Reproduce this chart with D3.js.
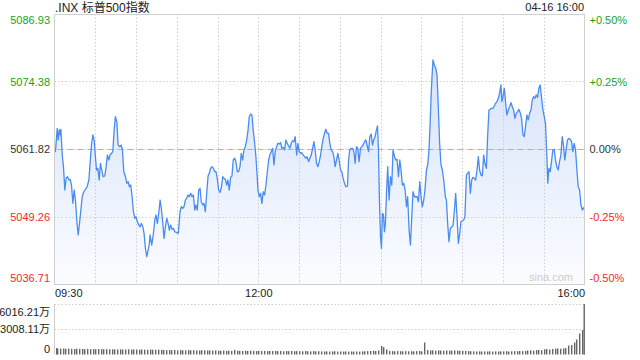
<!DOCTYPE html>
<html><head><meta charset="utf-8">
<script src="https://cdn.jsdelivr.net/npm/d3@7"></script>
<style>
html,body{margin:0;padding:0;background:#fff;}
svg{display:block;font-family:"Liberation Sans",Arial,"Noto Sans CJK SC",sans-serif;}
</style></head>
<body>
<svg id="chart" width="640" height="360"></svg>
<script>
const titleText = ".INX 标普500指数";
const dateText = "04-16 16:00";
const preClose = 5061.82;
const priceTicks = [5086.93, 5074.38, 5061.82, 5049.26, 5036.71];
const pctLabels = ["+0.50%", "+0.25%", "0.00%", "-0.25%", "-0.50%"];
const timeTicks = [0, 150, 390];
const timeLabels = ["09:30", "12:00", "16:00"];
const volTicks = [6016.21, 3008.11, 0];
const volLabels = ["6016.21万", "3008.11万", "0"];

// [minutes since 09:30, price]
const priceSeries = [[0,5061.95],[0.7,5061.32],[2.0,5065.67],[2.7,5063.49],[3.5,5065.36],[4.2,5064.43],[4.7,5065.49],[5.7,5060.70],[6.6,5058.53],[7.6,5054.19],[8.6,5056.42],[9.6,5056.67],[10.6,5056.05],[11.5,5056.18],[12.5,5055.12],[13.5,5051.72],[14.5,5054.19],[15.4,5052.33],[16.5,5048.29],[17.4,5045.82],[18.4,5047.99],[19.4,5050.47],[20.4,5052.94],[21.6,5053.87],[22.8,5054.32],[24.0,5054.80],[25.3,5056.05],[26.2,5059.16],[27.2,5062.56],[28.2,5064.43],[29.2,5063.49],[30.1,5060.39],[30.9,5057.91],[31.9,5058.23],[32.9,5056.05],[33.8,5059.16],[34.8,5057.91],[35.8,5056.67],[37.0,5056.80],[38.0,5058.53],[38.9,5060.70],[40.0,5059.77],[40.9,5060.70],[41.9,5061.02],[42.9,5061.32],[43.9,5065.36],[44.8,5067.83],[45.9,5066.90],[46.8,5062.56],[48.1,5062.25],[49.0,5062.56],[50.0,5061.63],[51.0,5057.60],[52.2,5056.67],[53.2,5055.44],[54.2,5055.74],[55.1,5054.80],[56.1,5055.12],[57.1,5052.94],[58.1,5050.15],[59.1,5048.92],[60.0,5049.22],[61.0,5048.29],[62.0,5047.68],[63.0,5047.36],[63.9,5047.99],[65.0,5047.36],[65.9,5046.13],[66.9,5043.34],[67.9,5041.78],[68.9,5043.03],[69.8,5044.14],[70.3,5045.82],[71.6,5043.96],[72.8,5046.13],[73.8,5048.61],[74.7,5049.54],[75.7,5047.99],[76.7,5049.85],[77.7,5052.33],[78.6,5050.79],[79.7,5047.99],[80.6,5045.20],[81.6,5047.36],[82.6,5048.92],[83.6,5047.99],[84.5,5046.75],[85.5,5047.68],[86.5,5046.88],[87.5,5047.06],[88.5,5046.43],[90.0,5046.25],[91.1,5046.13],[92.4,5050.15],[93.3,5051.08],[94.4,5050.79],[95.3,5051.08],[96.3,5052.33],[97.3,5052.65],[98.3,5053.26],[99.2,5052.94],[100.2,5053.58],[101.2,5052.94],[102.2,5053.26],[103.2,5050.47],[104.1,5051.40],[105.1,5050.47],[106.1,5054.19],[107.1,5054.51],[108.0,5052.01],[109.1,5051.40],[110.0,5051.72],[111.0,5050.15],[112.0,5053.58],[113.0,5056.80],[113.9,5057.30],[114.9,5058.23],[115.9,5058.53],[116.9,5058.23],[117.9,5057.60],[118.8,5057.60],[119.8,5056.37],[120.8,5054.19],[121.8,5053.76],[122.7,5054.51],[123.8,5056.67],[124.7,5056.37],[125.7,5056.18],[126.7,5055.12],[127.6,5056.05],[128.6,5054.19],[129.6,5056.55],[130.6,5056.80],[131.5,5059.77],[132.6,5060.09],[133.5,5059.46],[134.5,5057.60],[135.5,5057.60],[136.5,5058.53],[137.4,5061.02],[138.5,5059.77],[139.4,5061.63],[140.4,5062.25],[141.4,5063.49],[142.3,5065.04],[143.3,5067.83],[144.3,5068.33],[145.3,5068.15],[146.2,5065.36],[147.3,5062.88],[148.2,5060.39],[149.0,5057.30],[149.7,5054.19],[150.7,5052.94],[151.7,5053.58],[152.6,5051.72],[153.6,5053.87],[154.6,5053.26],[155.6,5055.12],[156.5,5057.30],[157.6,5059.77],[158.5,5060.70],[159.5,5061.32],[160.5,5061.95],[161.5,5058.84],[162.4,5061.32],[163.4,5062.25],[164.4,5062.88],[165.4,5062.75],[166.4,5062.99],[167.3,5061.95],[168.3,5062.14],[169.3,5061.63],[170.3,5063.49],[171.2,5062.88],[172.3,5062.38],[173.2,5061.95],[174.2,5062.88],[175.2,5063.36],[176.2,5063.18],[177.1,5064.11],[178.2,5060.70],[179.1,5062.88],[180.1,5061.32],[181.1,5061.02],[182.0,5061.13],[183.0,5060.70],[184.0,5060.39],[185.0,5060.09],[185.9,5060.39],[187.0,5059.46],[187.9,5060.09],[188.9,5060.70],[189.9,5061.95],[190.9,5063.18],[191.8,5061.63],[192.8,5059.16],[193.8,5058.53],[194.8,5059.46],[195.8,5060.70],[196.7,5062.25],[197.7,5063.81],[198.7,5064.74],[199.7,5065.49],[200.6,5064.74],[201.7,5064.74],[202.6,5062.88],[203.6,5061.63],[204.6,5061.32],[205.6,5060.39],[206.5,5058.53],[207.5,5059.77],[208.5,5061.02],[209.4,5059.77],[210.5,5057.91],[211.4,5057.60],[212.4,5056.37],[213.4,5055.44],[214.4,5054.80],[215.6,5054.93],[216.4,5059.77],[217.3,5061.63],[218.3,5061.95],[219.3,5061.95],[220.3,5061.32],[221.2,5059.16],[222.2,5062.25],[223.2,5061.95],[224.1,5059.46],[225.2,5061.95],[226.1,5062.25],[227.1,5062.56],[228.1,5063.18],[229.1,5063.49],[230.0,5062.56],[231.1,5061.32],[232.0,5064.11],[233.0,5064.61],[234.0,5062.56],[234.9,5063.49],[235.9,5064.11],[236.9,5065.36],[237.7,5066.10],[238.4,5061.63],[239.1,5052.33],[239.9,5045.50],[240.6,5043.34],[241.3,5049.85],[242.1,5049.54],[242.8,5046.43],[243.5,5047.99],[244.3,5053.58],[245.2,5058.53],[246.2,5052.33],[247.2,5056.67],[248.2,5055.12],[249.1,5061.63],[250.2,5060.39],[251.1,5059.77],[252.1,5059.90],[253.1,5056.67],[254.1,5059.77],[255.0,5057.91],[256.0,5055.12],[257.0,5055.44],[258.0,5054.19],[259.0,5051.08],[259.9,5052.94],[260.9,5046.75],[261.9,5043.96],[262.9,5049.22],[263.8,5053.87],[264.9,5052.94],[265.8,5052.94],[266.8,5052.94],[267.8,5052.01],[268.8,5055.74],[269.7,5052.94],[270.7,5051.08],[271.7,5052.33],[272.6,5054.19],[273.7,5057.91],[274.6,5058.84],[275.6,5061.63],[276.3,5065.97],[277.1,5071.55],[277.8,5075.27],[278.5,5078.38],[279.5,5077.45],[280.5,5076.84],[281.5,5075.59],[282.5,5069.08],[283.4,5062.88],[284.4,5058.84],[285.4,5057.91],[286.4,5056.05],[287.6,5052.94],[288.4,5052.33],[289.3,5047.99],[290.3,5044.57],[291.3,5047.06],[292.3,5047.36],[293.2,5047.49],[294.3,5050.47],[295.2,5053.58],[296.2,5049.22],[297.2,5044.27],[298.2,5046.13],[299.1,5048.29],[300.1,5048.48],[301.1,5048.61],[302.0,5049.22],[303.1,5056.98],[304.0,5057.30],[305.0,5057.60],[306.0,5053.58],[307.0,5056.05],[307.9,5056.55],[308.9,5056.37],[309.9,5056.05],[310.9,5057.91],[311.9,5060.39],[312.8,5057.91],[313.8,5056.98],[314.8,5056.80],[315.8,5060.70],[316.7,5059.16],[317.8,5058.23],[318.7,5064.11],[319.7,5069.08],[320.7,5069.21],[321.6,5069.39],[322.6,5069.39],[323.6,5069.82],[324.6,5070.32],[325.6,5070.62],[326.6,5071.25],[327.5,5072.18],[328.5,5073.73],[329.2,5070.62],[330.0,5071.55],[331.0,5073.11],[332.0,5070.32],[332.9,5068.15],[333.9,5069.08],[334.9,5069.69],[335.9,5070.44],[336.9,5069.69],[337.8,5069.08],[338.8,5067.53],[339.8,5068.46],[340.8,5068.76],[341.7,5069.21],[342.8,5068.46],[343.7,5067.53],[344.7,5064.43],[345.7,5064.11],[346.6,5065.97],[347.6,5068.15],[348.6,5067.22],[349.6,5068.46],[350.6,5069.08],[351.6,5070.94],[352.5,5071.55],[353.5,5071.25],[354.5,5071.87],[355.5,5071.40],[356.4,5073.11],[357.4,5073.73],[358.4,5071.40],[359.4,5069.08],[360.4,5067.83],[361.3,5066.60],[362.3,5060.39],[363.0,5055.44],[363.8,5058.23],[364.8,5057.60],[365.7,5059.46],[366.7,5061.63],[367.7,5061.76],[368.7,5059.77],[369.6,5058.53],[370.7,5057.91],[371.6,5059.46],[372.6,5060.70],[373.6,5064.11],[374.5,5062.56],[375.5,5059.77],[376.6,5061.95],[377.5,5063.49],[378.5,5063.81],[379.5,5063.62],[380.5,5063.18],[381.4,5061.32],[382.4,5062.88],[383.4,5061.63],[384.4,5057.91],[385.4,5054.80],[386.4,5054.19],[387.4,5051.40],[388.4,5050.47],[390,5051.08]];

// volume in 万, one bar every 2 minutes from 09:30
const volumes = [760,720,700,710,690,700,680,660,690,670,
660,650,670,640,650,630,660,640,620,640,
630,610,620,600,610,590,600,620,580,600,
590,570,600,580,560,590,570,560,580,550,
540,520,530,510,540,500,520,510,490,520,
500,510,490,480,510,500,470,490,480,500,
460,450,470,440,460,430,560,450,440,430,
450,420,440,430,410,440,420,430,400,420,
410,430,400,420,390,410,400,420,390,410,
400,380,410,390,370,400,380,390,370,360,
370,350,360,380,350,360,340,370,350,360,
340,360,350,370,380,400,420,450,410,480,
1010,860,600,420,400,380,410,390,370,400,
380,390,370,400,420,380,1430,520,480,500,
460,490,470,450,480,460,470,490,450,460,
440,430,410,380,370,360,380,350,370,360,
380,350,370,360,380,370,390,360,380,400,
390,410,400,430,480,500,460,520,540,510,
620,660,600,650,700,720,690,730,760,1070,
1130,1430,1790,2500,2920,6016.21];
const volMinuteStep = 2;

const svg = d3.select("#chart");
const L = 54.5, R = 584.5, T = 14, B = 284;
const VT = 304, VB = 354.5;
const green = "#1a9f1a", red = "#ee2b2b", gridC = "#cfcfcf", borderC = "#d0d0d0";

const x = d3.scaleLinear().domain([0, 390]).range([L, R]);
const y = d3.scaleLinear().domain([priceTicks[4], priceTicks[0]]).range([B, T]);
const yv = d3.scaleLinear().domain([0, volTicks[0]]).range([VB, VT]);

// gradient
const defs = svg.append("defs");
const grad = defs.append("linearGradient").attr("id", "fillG")
  .attr("gradientUnits", "userSpaceOnUse").attr("x1", 0).attr("y1", 55).attr("x2", 0).attr("y2", B);
grad.append("stop").attr("offset", "0%").attr("stop-color", "#d4e2fa");
grad.append("stop").attr("offset", "100%").attr("stop-color", "#fbfcff");

// area
const area = d3.area().x(d => x(d[0])).y0(B).y1(d => y(d[1]));
svg.append("path").datum(priceSeries).attr("d", area).attr("fill", "url(#fillG)");

// vertical grid
const vgrid = d3.range(30, 390, 30);
svg.append("g").selectAll("line").data(vgrid).join("line")
  .attr("x1", d => Math.round(x(d)) + 0.5).attr("x2", d => Math.round(x(d)) + 0.5)
  .attr("y1", T).attr("y2", B)
  .attr("stroke", gridC).attr("stroke-dasharray", "1.5,2").attr("stroke-width", 1);

// horizontal grid
[priceTicks[1], priceTicks[3]].forEach(v => {
  svg.append("line").attr("x1", L).attr("x2", R).attr("y1", Math.round(y(v)) + 0.5).attr("y2", Math.round(y(v)) + 0.5)
    .attr("stroke", gridC).attr("stroke-dasharray", "1.5,2");
});
// pre-close line
const yc = Math.round(y(preClose)) + 0.5;
svg.append("line").attr("x1", L).attr("x2", R).attr("y1", yc).attr("y2", yc)
  .attr("stroke", "#bbbbbb").attr("stroke-dasharray", "1,2");
svg.append("line").attr("x1", L + 3).attr("x2", R).attr("y1", yc).attr("y2", yc)
  .attr("stroke", "#f0a070").attr("stroke-dasharray", "6,4");

// price line
const line = d3.line().x(d => x(d[0])).y(d => y(d[1]));
svg.append("path").datum(priceSeries).attr("d", line).attr("fill", "none")
  .attr("stroke", "#4a8bf0").attr("stroke-width", 1.3).attr("stroke-linejoin", "round");

// borders price
svg.append("rect").attr("x", L).attr("y", T + 0.5).attr("width", R - L).attr("height", B - T)
  .attr("fill", "none").attr("stroke", borderC);

// watermark
svg.append("text").attr("x", 573).attr("y", 281).attr("text-anchor", "end")
  .attr("font-size", 11).attr("fill", "#cccccc").text("sina.com");

// left price axis
const pctColor = (i) => i < 2 ? green : (i === 2 ? "#333" : red);
const leftAxis = d3.axisLeft(y).tickValues(priceTicks).tickSize(0).tickPadding(4).tickFormat(d3.format(".2f"));
const gl = svg.append("g").attr("transform", `translate(${L - 0.5},0)`).call(leftAxis);
gl.select(".domain").remove();
gl.selectAll("text").attr("font-size", 11).attr("font-family", "Liberation Sans, Arial, sans-serif")
  .attr("fill", (d, i) => pctColor(i))
  .attr("dy", (d, i) => i === 0 ? "0.85em" : (i === 4 ? "-0.2em" : "0.32em"));

// right pct axis
const rightAxis = d3.axisRight(y).tickValues(priceTicks).tickSize(0).tickPadding(5)
  .tickFormat((d, i) => pctLabels[i]);
const gr = svg.append("g").attr("transform", `translate(${R},0)`).call(rightAxis);
gr.select(".domain").remove();
gr.selectAll("text").attr("font-size", 11).attr("font-family", "Liberation Sans, Arial, sans-serif")
  .attr("fill", (d, i) => pctColor(i))
  .attr("dy", (d, i) => i === 0 ? "0.85em" : (i === 4 ? "-0.2em" : "0.32em"));

// time axis
const timeAxis = d3.axisBottom(x).tickValues(timeTicks).tickSize(0).tickPadding(5)
  .tickFormat((d, i) => timeLabels[i]);
const gt = svg.append("g").attr("transform", `translate(0,${B})`).call(timeAxis);
gt.select(".domain").remove();
gt.selectAll("text").attr("font-size", 11).attr("font-family", "Liberation Sans, Arial, sans-serif")
  .attr("fill", "#222")
  .attr("text-anchor", (d, i) => i === 0 ? "start" : (i === 2 ? "end" : "middle"));

// title and date
svg.append("text").attr("x", 55).attr("y", 12).attr("font-size", 12).attr("fill", "#222").text(titleText);
svg.append("text").attr("x", 584).attr("y", 11).attr("font-size", 11).attr("fill", "#222")
  .attr("text-anchor", "end").text(dateText);

// volume grid
[volTicks[0], volTicks[1]].forEach(v => {
  svg.append("line").attr("x1", L).attr("x2", R).attr("y1", Math.round(yv(v)) + 0.5).attr("y2", Math.round(yv(v)) + 0.5)
    .attr("stroke", gridC).attr("stroke-dasharray", "1.5,2");
});
svg.append("line").attr("x1", L).attr("x2", L).attr("y1", VT).attr("y2", VB + 0.5).attr("stroke", borderC);
svg.append("line").attr("x1", R).attr("x2", R).attr("y1", VT).attr("y2", VB + 0.5).attr("stroke", borderC);

// volume bars
svg.append("g").selectAll("rect").data(volumes).join("rect")
  .attr("x", (d, i) => Math.round(x(i * volMinuteStep)) + (i === 0 ? 1 : 0) - (i === volumes.length - 1 ? 1.5 : 0))
  .attr("width", 1.4)
  .attr("y", d => yv(d))
  .attr("height", d => VB - yv(d))
  .attr("fill", "#666");

// volume axis
const volAxis = d3.axisLeft(yv).tickValues(volTicks).tickSize(0).tickPadding(4)
  .tickFormat((d, i) => volLabels[i]);
const gv = svg.append("g").attr("transform", `translate(${L - 0.5},0)`).call(volAxis);
gv.select(".domain").remove();
gv.selectAll("text").attr("font-size", 11).attr("font-family", "Liberation Sans, Arial, \"Noto Sans CJK SC\", sans-serif")
  .attr("fill", "#222")
  .attr("dy", (d, i) => i === 0 ? "1.05em" : (i === 2 ? "-0.2em" : "0.32em"));
</script>
</body></html>
